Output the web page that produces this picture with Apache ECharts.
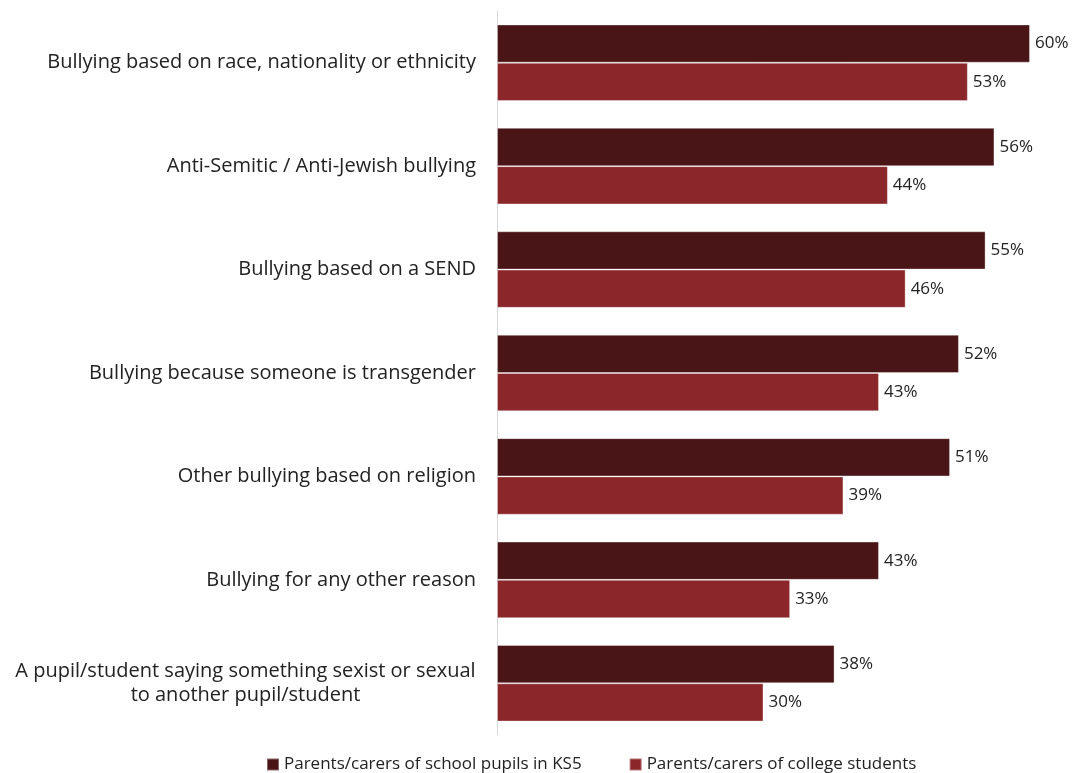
<!DOCTYPE html>
<html><head><meta charset="utf-8">
<script src="https://cdn.jsdelivr.net/npm/echarts@6/dist/echarts.min.js"></script>
<style>html,body{margin:0;padding:0;background:#fff}#c{width:1074px;height:773px}</style>
</head><body><div id="c"></div>
<script>
const categories = [
  "Bullying based on race, nationality or ethnicity",
  "Anti-Semitic / Anti-Jewish bullying",
  "Bullying based on a SEND",
  "Bullying because someone is transgender",
  "Other bullying based on religion",
  "Bullying for any other reason",
  "A pupil/student saying something sexist or sexual\nto another pupil/student"
];
const seriesNames = ["Parents/carers of school pupils in KS5", "Parents/carers of college students"];
const ks5 = [60, 56, 55, 52, 51, 43, 38];
const college = [53, 44, 46, 43, 39, 33, 30];

const FONT = "Open Sans";
const CAT_SIZE = 20;
// measure widest line of multi-line labels so lines can be centred within the block
const cv = document.createElement('canvas').getContext('2d');
cv.font = CAT_SIZE + 'px "' + FONT + '"';
let multiW = 0;
categories.forEach(c => { if (c.includes('\n')) c.split('\n').forEach(l => { multiW = Math.max(multiW, Math.ceil(cv.measureText(l).width)); }); });

const chart = echarts.init(document.getElementById('c'), null, {renderer: 'canvas'});
const mk = (name, data, color) => ({
  name, type: 'bar', data, barGap: '0%', barCategoryGap: '26%',
  itemStyle: {color, borderColor: 'rgba(255,255,255,0.35)', borderWidth: 1},
  label: {show: true, position: 'right', distance: 5, formatter: '{c}%', color: '#222', fontFamily: FONT, fontSize: 17},
  animation: false
});
chart.setOption({
  animation: false,
  textStyle: {fontFamily: FONT},
  grid: {left: 497, right: 44, top: 11, bottom: 38, containLabel: false},
  legend: {
    top: 751, left: 261, itemGap: 47, itemWidth: 12, itemHeight: 12, icon: 'rect',
    textStyle: {fontFamily: FONT, fontSize: 17, color: '#222'}
  },
  xAxis: {type: 'value', min: 0, max: 60, show: false},
  yAxis: {
    type: 'category', data: categories, inverse: true,
    axisLine: {show: true, lineStyle: {color: '#d9d9d9', width: 1}},
    axisTick: {show: false},
    axisLabel: {
      fontFamily: FONT, fontSize: CAT_SIZE, color: '#222', margin: 21, align: 'right', lineHeight: 24,
      formatter: v => v.includes('\n') ? v.split('\n').map(l => '{m|' + l + '}').join('\n') : v,
      rich: {m: {width: multiW, align: 'center', fontFamily: FONT, fontSize: CAT_SIZE, color: '#222', lineHeight: 24}}
    }
  },
  series: [mk(seriesNames[0], ks5, '#4a1517'), mk(seriesNames[1], college, '#8b262b')]
});
</script></body></html>
